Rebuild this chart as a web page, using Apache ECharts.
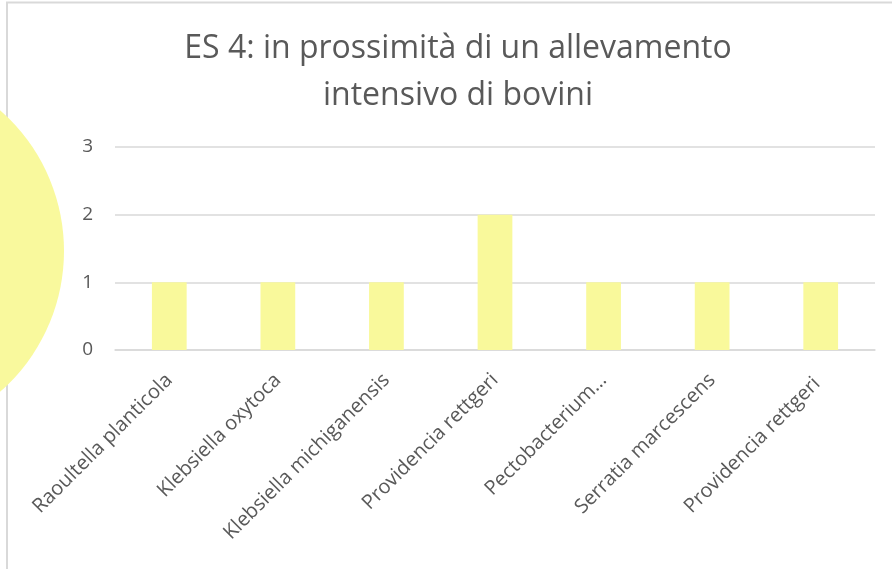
<!DOCTYPE html>
<html>
<head>
<meta charset="utf-8">
<script src="https://cdn.jsdelivr.net/npm/echarts@6/dist/echarts.min.js"></script>
<style>
  html, body { margin: 0; padding: 0; background: #ffffff; }
  #chart { width: 892px; height: 569px; }
</style>
</head>
<body>
<div id="chart"></div>
<script>
// Bacteria identified at site ES 4
const categories = [
  'Raoultella planticola',
  'Klebsiella oxytoca',
  'Klebsiella michiganensis',
  'Providencia rettgeri',
  'Pectobacterium…',
  'Serratia marcescens',
  'Providencia rettgeri '
];
const counts = [1, 1, 1, 2, 1, 1, 1];
const yTicks = [0, 1, 2, 3];

const textColor = '#595959';
const gridColor = '#d9d9d9';
const barColor = '#f9f99b';
const fontFamily = '"Open Sans", "Noto Sans", sans-serif';

const chart = echarts.init(document.getElementById('chart'), null, { renderer: 'canvas' });

chart.setOption({
  backgroundColor: '#ffffff',
  animation: false,
  title: {
    text: 'ES 4: in prossimità di un allevamento\nintensivo di bovini',
    left: 453,
    top: 20,
    textAlign: 'center',
    textStyle: {
      color: textColor,
      fontFamily: fontFamily,
      fontSize: 32,
      fontWeight: 'normal',
      lineHeight: 47
    }
  },
  grid: { left: 115, right: 17, top: 147, height: 203 },
  xAxis: {
    type: 'category',
    data: categories,
    axisLine: { show: true, lineStyle: { color: gridColor, width: 1.5 } },
    axisTick: { show: false },
    axisLabel: {
      interval: 0,
      rotate: 45,
      margin: 27,
      color: textColor,
      fontFamily: fontFamily,
      fontSize: 20
    }
  },
  yAxis: {
    type: 'value',
    min: yTicks[0],
    max: yTicks[yTicks.length - 1],
    interval: 1,
    axisLine: { show: false },
    axisTick: { show: false },
    splitLine: { lineStyle: { color: gridColor, width: 1.5 } },
    axisLabel: {
      margin: 22,
      color: textColor,
      fontFamily: fontFamily,
      fontSize: 19
    }
  },
  series: [{
    type: 'bar',
    data: counts,
    barWidth: '32%',
    itemStyle: { color: barColor }
  }],
  graphic: [
    {
      type: 'polyline',
      silent: true,
      z: 10,
      shape: { points: [[7, 569], [7, 2.5], [892, 2.5]] },
      style: { stroke: gridColor, lineWidth: 2, fill: null }
    },
    {
      type: 'circle',
      silent: true,
      z: 20,
      shape: { cx: -123, cy: 251, r: 187 },
      style: { fill: '#f9f99d' }
    }
  ]
});
</script>
</body>
</html>
